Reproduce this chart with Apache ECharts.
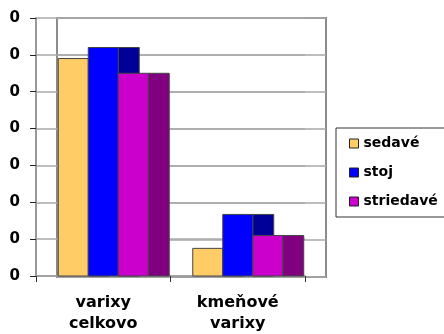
<!DOCTYPE html>
<html>
<head>
<meta charset="utf-8">
<script src="https://cdn.jsdelivr.net/npm/echarts@6/dist/echarts.min.js"></script>
<style>
  html, body { margin: 0; padding: 0; background: #fff; }
  #chart { width: 444px; height: 334px; }
</style>
</head>
<body>
<div id="chart"></div>
<script>
// Categories and series values (shares, shown with whole-number axis format)
const categories = ['varixy\ncelkovo', 'kmeňové\nvarixy'];
const seriesNames = ['sedavé', 'stoj', 'striedavé'];
const sedave = [0.59, 0.075];
const stoj = [0.62, 0.167];
const striedave = [0.55, 0.11];
const yTickLabels = ['0', '0', '0', '0', '0', '0', '0', '0'];

// Pseudo-3D column look: front face plus a shaded side face
const DEPTH = 21;          // horizontal depth of the column sides / side wall
const BAR_FRACTION = 0.223; // front face width as part of a category band
const FRONT_LEFT = 36, FRONT_RIGHT = 139, TOP = 18, BOTTOM = 57;

const frontColors = ['#FFCC66', '#0000FF', '#CC00CC'];
const sideColors = ['#C99A3C', '#000099', '#800080'];
const FONT = 'DejaVu Sans, Verdana, sans-serif';

function makeRender(idx) {
  return function (params, api) {
    const cat = api.value(0);
    const val = api.value(1);
    const top = api.coord([cat, val]);
    const base = api.coord([cat, 0]);
    const band = api.size([1, 0])[0];
    const w = band * BAR_FRACTION;
    const x0 = top[0] + (idx - 1.5) * w;
    const h = base[1] - top[1];
    const stroke = { stroke: '#444', lineWidth: 1 };
    return {
      type: 'group',
      children: [
        {
          type: 'rect',
          shape: { x: x0 + w, y: top[1], width: DEPTH, height: h },
          style: Object.assign({ fill: sideColors[idx] }, stroke)
        },
        {
          type: 'rect',
          shape: { x: x0, y: top[1], width: w, height: h },
          style: Object.assign({ fill: frontColors[idx] }, stroke)
        }
      ]
    };
  };
}

const values = [sedave, stoj, striedave];
const gridLineStyle = { color: '#a8a8a8', width: 1.5 };

const option = {
  animation: false,
  backgroundColor: '#fff',
  grid: [
    // front plane: category axis, value axis and the side wall lines
    { left: FRONT_LEFT, right: FRONT_RIGHT, top: TOP, bottom: BOTTOM },
    // back wall
    {
      left: FRONT_LEFT + DEPTH, right: FRONT_RIGHT - DEPTH, top: TOP, bottom: BOTTOM,
      show: true, borderColor: '#8c8c8c', borderWidth: 2, backgroundColor: 'transparent'
    }
  ],
  xAxis: [
    {
      gridIndex: 0,
      type: 'category',
      data: categories,
      axisLine: { show: true, lineStyle: { color: '#999', width: 1.5 } },
      axisTick: { show: true, length: 6, lineStyle: { color: '#333', width: 1 } },
      axisLabel: {
        interval: 0, margin: 16, color: '#000',
        fontFamily: FONT, fontWeight: 'bold', fontSize: 16, lineHeight: 21
      }
    },
    {
      gridIndex: 1, type: 'category', data: categories,
      axisLine: { show: false }, axisTick: { show: false }, axisLabel: { show: false }
    }
  ],
  yAxis: [
    {
      gridIndex: 0,
      type: 'value',
      min: 0, max: 0.7, interval: 0.1,
      axisLine: { show: true, lineStyle: { color: '#999', width: 2 } },
      axisTick: { show: true, length: 6, lineStyle: { color: '#222', width: 1 } },
      splitLine: { show: true, lineStyle: gridLineStyle },
      axisLabel: {
        margin: 16, color: '#000', fontFamily: FONT, fontWeight: 'bold', fontSize: 15,
        padding: [3, 0, 0, 0],
        formatter: function (v) { return yTickLabels[Math.round(v * 10)]; }
      }
    },
    {
      gridIndex: 1,
      type: 'value',
      min: 0, max: 0.7, interval: 0.1,
      axisLine: { show: false }, axisTick: { show: false }, axisLabel: { show: false },
      splitLine: { show: true, lineStyle: gridLineStyle }
    }
  ],
  legend: {
    orient: 'vertical',
    left: 336, top: 128,
    padding: [8, 20, 8, 13],
    itemGap: 14,
    itemWidth: 9, itemHeight: 9,
    icon: 'rect',
    borderColor: '#333', borderWidth: 1,
    backgroundColor: '#fff',
    itemStyle: { borderColor: '#222', borderWidth: 1 },
    textStyle: { color: '#000', fontFamily: FONT, fontWeight: 'bold', fontSize: 14, lineHeight: 15 },
    data: seriesNames
  },
  series: seriesNames.map(function (name, idx) {
    return {
      name: name,
      type: 'custom',
      xAxisIndex: 0, yAxisIndex: 0,
      itemStyle: { color: frontColors[idx] },
      encode: { x: 0, y: 1 },
      data: values[idx].map(function (v, i) { return [i, v]; }),
      renderItem: makeRender(idx)
    };
  })
};

const chart = echarts.init(document.getElementById('chart'), null, { renderer: 'canvas' });
chart.setOption(option);
</script>
</body>
</html>
